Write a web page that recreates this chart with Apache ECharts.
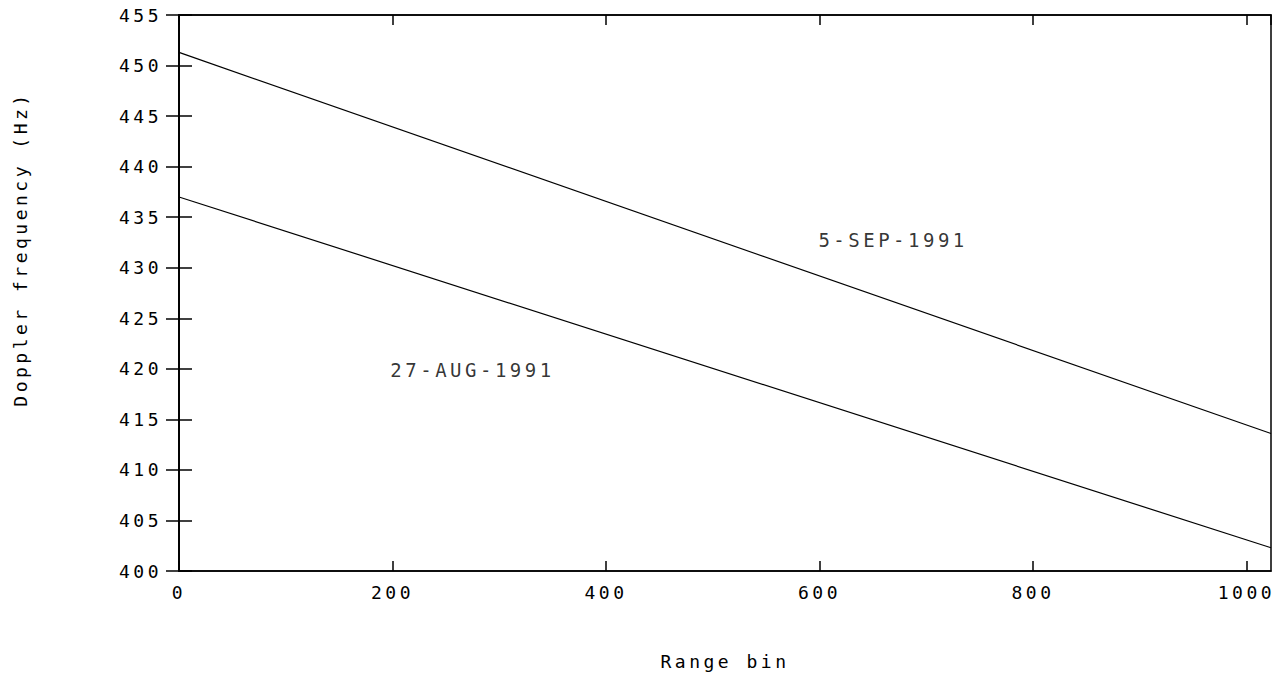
<!DOCTYPE html>
<html>
<head>
<meta charset="utf-8">
<script src="https://cdn.jsdelivr.net/npm/echarts@6/dist/echarts.min.js"></script>
<style>
  html, body { margin: 0; padding: 0; background: #fff; }
  #chart { width: 1276px; height: 675px; }
  /* plotter-style wide lettering */
  #chart text { letter-spacing: 3.5px; }
</style>
</head>
<body>
<div id="chart"></div>
<script>
// range bin endpoints and doppler frequency (Hz)
const rangeBins = [0, 1023];
const sep5 = [451.3, 413.6];
const aug27 = [437.0, 402.3];

// in-plot date labels: [range bin, frequency, text]
const dateLabels = [
  [599, 432.7, "5-SEP-1991"],
  [198, 419.9, "27-AUG-1991"],
];

const FONT = '"DejaVu Sans Mono", "Liberation Mono", monospace';
const INK = "#000";

const chart = echarts.init(document.getElementById("chart"), null, { renderer: "svg" });

const pairs = (ys) => rangeBins.map((x, i) => [x, ys[i]]);

const tickLabel = { color: INK, fontFamily: FONT, fontSize: 18, formatter: (v) => String(v) };

chart.setOption({
  backgroundColor: "#fff",
  animation: false,
  grid: {
    left: 179,
    top: 15,
    right: 5,
    bottom: 104,
    show: true,
    borderColor: INK,
    borderWidth: 1.5,
  },
  xAxis: [
    {
      type: "value",
      min: 0,
      max: 1023,
      interval: 200,
      name: "Range bin",
      nameLocation: "middle",
      nameGap: 81,
      nameTextStyle: { color: INK, fontFamily: FONT, fontSize: 18 },
      axisLine: { show: true, lineStyle: { color: INK, width: 1.5 } },
      axisTick: { inside: true, length: 10, lineStyle: { color: INK, width: 1.5 } },
      axisLabel: Object.assign({ margin: 12, showMaxLabel: false }, tickLabel),
      splitLine: { show: false },
    },
    {
      type: "value",
      position: "top",
      min: 0,
      max: 1023,
      interval: 200,
      axisLine: { show: true, lineStyle: { color: INK, width: 1.5 } },
      axisTick: { inside: true, length: 10, lineStyle: { color: INK, width: 1.5 } },
      axisLabel: { show: false },
      splitLine: { show: false },
    },
  ],
  yAxis: [
    {
      type: "value",
      min: 400,
      max: 455,
      interval: 5,
      name: "Doppler frequency (Hz)",
      nameLocation: "middle",
      nameGap: 150,
      nameTextStyle: { color: INK, fontFamily: FONT, fontSize: 18, padding: [0, 0, 0, 88] },
      axisLine: { show: true, lineStyle: { color: INK, width: 1.5 } },
      axisTick: { inside: true, length: 13, lineStyle: { color: INK, width: 1.5 } },
      axisLabel: Object.assign({ margin: 17 }, tickLabel),
      splitLine: { show: false },
    },
    {
      type: "value",
      position: "right",
      min: 400,
      max: 455,
      interval: 5,
      axisLine: { show: true, lineStyle: { color: INK, width: 1.5 } },
      axisTick: { inside: true, length: 13, lineStyle: { color: INK, width: 1.5 } },
      axisLabel: { show: false },
      splitLine: { show: false },
    },
  ],
  series: [
    {
      name: "5-SEP-1991",
      type: "line",
      data: pairs(sep5),
      showSymbol: false,
      lineStyle: { color: INK, width: 1.2 },
    },
    {
      name: "27-AUG-1991",
      type: "line",
      data: pairs(aug27),
      showSymbol: false,
      lineStyle: { color: INK, width: 1.2 },
    },
    {
      type: "scatter",
      data: dateLabels.map(([x, y, t]) => ({ value: [x, y], name: t })),
      symbolSize: 0,
      itemStyle: { color: "transparent" },
      label: {
        show: true,
        position: "right",
        distance: 0,
        formatter: (p) => p.name,
        color: INK,
        fontFamily: FONT,
        fontSize: 19,
      },
      silent: true,
    },
  ],
});
</script>
</body>
</html>
